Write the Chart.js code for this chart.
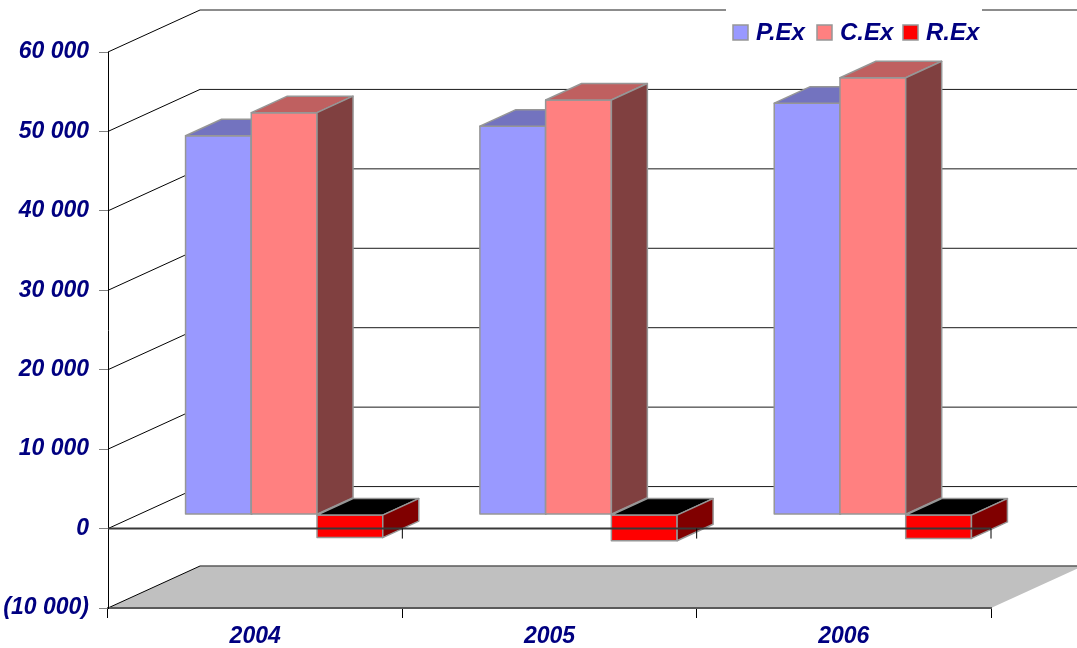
<!DOCTYPE html>
<html>
<head>
<meta charset="utf-8">
<script src="https://cdn.jsdelivr.net/npm/chart.js@4.4.0/dist/chart.umd.min.js"></script>
<style>
  html, body { margin: 0; padding: 0; background: #fff; }
  #wrap { position: relative; width: 1077px; height: 648px; }
</style>
</head>
<body>
<div id="wrap"><canvas id="chart"></canvas></div>
<script>
// Values
const years = ['2004', '2005', '2006'];
const pEx = [47700, 48900, 51800];
const cEx = [50600, 52200, 55000];
const rEx = [-2900, -3300, -3000];
const seriesNames = ['P.Ex', 'C.Ex', 'R.Ex'];
const yTicks = [-10000, 0, 10000, 20000, 30000, 40000, 50000, 60000];

const NAVY = '#000080';
const FONT = "'Liberation Sans', Arial, sans-serif";
const EDGE = '#969696';

// face colours for each series: front, top, side
const faces = [
  { front: '#9999FF', top: '#7373BF', side: '#4D4D80' },
  { front: '#FF8080', top: '#BF6060', side: '#804040' },
  { front: '#FF0000', top: '#000000', side: '#800000' }
];

// 3D offsets in pixels
const WALL = { dx: 92, dy: -42 };       // full depth of the plot box
const BAR_POS = { dx: 29, dy: -14 };    // where the bar fronts sit
const BAR_DEPTH = { dx: 36, dy: -16.5 };

function fmt(v) {
  const s = Math.abs(v).toString().replace(/\B(?=(\d{3})+(?!\d))/g, ' ');
  return v < 0 ? '(' + s + ')' : s;
}

function poly(ctx, pts, fill, stroke, lw) {
  ctx.beginPath();
  ctx.moveTo(pts[0][0], pts[0][1]);
  for (let i = 1; i < pts.length; i++) ctx.lineTo(pts[i][0], pts[i][1]);
  ctx.closePath();
  if (fill) { ctx.fillStyle = fill; ctx.fill(); }
  if (stroke) { ctx.strokeStyle = stroke; ctx.lineWidth = lw || 1; ctx.stroke(); }
}

function line(ctx, x1, y1, x2, y2, color, lw) {
  ctx.beginPath();
  ctx.moveTo(x1, y1);
  ctx.lineTo(x2, y2);
  ctx.strokeStyle = color;
  ctx.lineWidth = lw;
  ctx.stroke();
}

// Draws the floor, walls, 3D bars, front zero line and legend
const box3d = {
  id: 'box3d',
  beforeDraw(chart) {
    const { ctx, chartArea: a, scales: { y } } = chart;
    ctx.save();
    // floor at the axis minimum
    const yf = y.getPixelForValue(y.min);
    poly(ctx, [[a.left, yf], [a.right, yf], [a.right + WALL.dx, yf + WALL.dy], [a.left + WALL.dx, yf + WALL.dy]], '#C0C0C0');
    line(ctx, a.left + WALL.dx, yf + WALL.dy, a.right + WALL.dx, yf + WALL.dy, '#5a5a5a', 1.5);
    line(ctx, a.left, yf, a.left + WALL.dx, yf + WALL.dy, '#000', 1);
    // gridlines on the side wall and back wall
    yTicks.forEach(v => {
      if (v === y.min) return;
      const p = y.getPixelForValue(v);
      line(ctx, a.left, p, a.left + WALL.dx, p + WALL.dy, '#000', 1);
      line(ctx, a.left + WALL.dx, p + WALL.dy, a.right + WALL.dx, p + WALL.dy, '#1a1a1a', 1);
    });
    ctx.restore();
  },
  beforeDatasetsDraw(chart) {
    const { ctx } = chart;
    ctx.save();
    ctx.lineJoin = 'round';
    const n = chart.data.labels.length;
    for (let i = 0; i < n; i++) {
      chart.data.datasets.forEach((ds, d) => {
        const el = chart.getDatasetMeta(d).data[i];
        const { x, y, base, width } = el.getProps(['x', 'y', 'base', 'width'], true);
        const f = faces[d];
        const L = x - width / 2 + BAR_POS.dx, R = x + width / 2 + BAR_POS.dx;
        const T = Math.min(y, base) + BAR_POS.dy, B = Math.max(y, base) + BAR_POS.dy;
        const ddx = BAR_DEPTH.dx, ddy = BAR_DEPTH.dy;
        poly(ctx, [[L, T], [R, T], [R, B], [L, B]], f.front, EDGE, 1.5);
        poly(ctx, [[L, T], [R, T], [R + ddx, T + ddy], [L + ddx, T + ddy]], f.top, EDGE, 1.5);
        poly(ctx, [[R, T], [R + ddx, T + ddy], [R + ddx, B + ddy], [R, B]], f.side, EDGE, 1.5);
      });
    }
    ctx.restore();
    return false;
  },
  afterDraw(chart) {
    const { ctx, chartArea: a, scales: { y } } = chart;
    ctx.save();
    // front zero line with category ticks
    const y0 = y.getPixelForValue(0);
    line(ctx, a.left, y0, a.right, y0, '#383838', 2);
    const n = chart.data.labels.length;
    for (let k = 1; k <= n; k++) {
      const xk = a.left + k * (a.right - a.left) / n;
      line(ctx, xk, y0, xk, y0 + 10, '#000', 1);
    }
    // legend, top right on a white patch
    ctx.fillStyle = '#fff';
    ctx.fillRect(726, 0, 256, 52);
    ctx.font = "italic bold 24px " + FONT;
    ctx.textBaseline = 'middle';
    const boxX = [733, 817, 903];
    seriesNames.forEach((name, i) => {
      ctx.fillStyle = faces[i].front;
      ctx.fillRect(boxX[i], 25, 15, 15);
      ctx.strokeStyle = EDGE;
      ctx.lineWidth = 1.5;
      ctx.strokeRect(boxX[i], 25, 15, 15);
      ctx.fillStyle = NAVY;
      ctx.fillText(name, boxX[i] + 23, 33);
    });
    ctx.restore();
  }
};

const tickFont = { family: FONT, size: 23, weight: 'bold', style: 'italic' };

new Chart(document.getElementById('chart'), {
  type: 'bar',
  data: {
    labels: years,
    datasets: [pEx, cEx, rEx].map((vals, i) => ({
      label: seriesNames[i],
      data: vals,
      backgroundColor: faces[i].front,
      borderColor: EDGE,
      borderWidth: 1
    }))
  },
  options: {
    responsive: true,
    maintainAspectRatio: false,
    animation: false,
    layout: { padding: { top: 52, right: 86, left: 0, bottom: 0 } },
    datasets: { bar: { categoryPercentage: 0.67, barPercentage: 1 } },
    plugins: {
      legend: { display: false },
      tooltip: { enabled: false }
    },
    scales: {
      x: {
        afterFit: s => { s.height = 40; },
        grid: { drawOnChartArea: false, drawTicks: true, tickLength: 10, color: '#000', offset: true },
        border: { display: true, color: '#5a5a5a', width: 2 },
        ticks: { color: NAVY, font: tickFont, padding: 5 }
      },
      y: {
        min: -10000,
        max: 60000,
        afterFit: s => { s.width = 108; },
        afterBuildTicks: s => { s.ticks = yTicks.map(v => ({ value: v })); },
        grid: { drawOnChartArea: false, drawTicks: true, tickLength: 9, color: '#808080' },
        border: { display: true, color: '#000', width: 1 },
        ticks: { color: NAVY, font: tickFont, padding: 10, callback: v => fmt(v) }
      }
    }
  },
  plugins: [box3d]
});
</script>
</body>
</html>
